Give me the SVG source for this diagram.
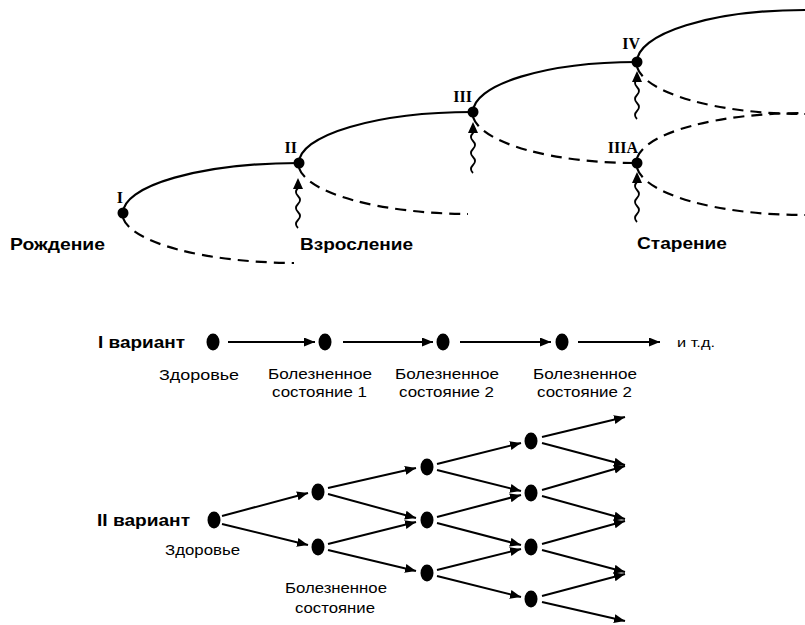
<svg xmlns="http://www.w3.org/2000/svg" width="805" height="625" viewBox="0 0 805 625">
<defs>
<marker id="ah" markerUnits="userSpaceOnUse" markerWidth="12" markerHeight="10" refX="11" refY="4.5" orient="auto"><path d="M0,0 L11,4.5 L0,9 z" fill="#000"/></marker>
</defs>
<style>
.solid{fill:none;stroke:#000;stroke-width:2.2}
.dash{fill:none;stroke:#000;stroke-width:2.2;stroke-dasharray:11 7}
.wave{fill:none;stroke:#000;stroke-width:1.8}
.arr{stroke:#000;stroke-width:2;marker-end:url(#ah)}
.rom{font-family:"Liberation Serif",serif;font-weight:bold;font-size:16px;fill:#000}
.stage{font-family:"Liberation Sans",Arial,sans-serif;font-weight:bold;font-size:17px;fill:#000}
.var{font-family:"Liberation Sans",Arial,sans-serif;font-weight:bold;font-size:16px;fill:#000}
.lbl{font-family:"Liberation Sans",Arial,sans-serif;font-size:14.5px;fill:#000}
.sm{font-family:"Liberation Sans",Arial,sans-serif;font-size:13px;fill:#000}
.dot{fill:#000}
</style>
<g id="connectors">
<path class="solid" d="M123,213 A176,50 0 0 1 299,163"/>
<path class="dash" d="M123,218 A176,50 0 0 0 294,263"/>
<path class="solid" d="M299,163 A174,51 0 0 1 473,112"/>
<path class="dash" d="M299,168 A174,51 0 0 0 468,214"/>
<path class="solid" d="M473,112 A164,50 0 0 1 637,62"/>
<path class="dash" d="M473,117 A164,51 0 0 0 637,163"/>
<path class="solid" d="M637,62 A168,52 0 0 1 805,10"/>
<path class="dash" d="M637,67 A168,52 0 0 0 805,114"/>
<path class="dash" d="M637,158 A168,50 0 0 1 805,113"/>
<path class="dash" d="M637,168 A168,52 0 0 0 805,215"/>
<path class="wave" d="M298,228 q-4,-4 0,-8 q4,-4 0,-8 q-4,-4 0,-8 q4,-4 0,-8 q-4,-4 0,-8 l0,-2"/>
<path class="wave" d="M473,173 q-4,-4 0,-8 q4,-4 0,-8 q-4,-4 0,-8 q4,-4 0,-8 q-4,-4 0,-8 l0,-3"/>
<path class="wave" d="M637,119 q-4,-4 0,-8 q4,-4 0,-8 q-4,-4 0,-8 q4,-4 0,-8 q-4,-4 0,-8 l0,-1"/>
<path class="wave" d="M637,222 q-4,-4 0,-8 q4,-4 0,-8 q-4,-4 0,-8 q4,-4 0,-8 q-4,-4 0,-8 l0,-1"/>
<path fill="#000" d="M298,178 L293,189 L303,189 z"/>
<path fill="#000" d="M473,122 L468,133 L478,133 z"/>
<path fill="#000" d="M637,71 L632,82 L642,82 z"/>
<path fill="#000" d="M637,172 L632,183 L642,183 z"/>
<line class="arr" x1="228" y1="342" x2="315" y2="342"/>
<line class="arr" x1="343" y1="342" x2="433" y2="342"/>
<line class="arr" x1="460" y1="342" x2="551" y2="342"/>
<line class="arr" x1="578" y1="342" x2="660" y2="342"/>
<line class="arr" x1="222" y1="516" x2="308" y2="493"/>
<line class="arr" x1="222" y1="524" x2="308" y2="545"/>
<line class="arr" x1="328" y1="488" x2="416" y2="468"/>
<line class="arr" x1="328" y1="494" x2="416" y2="518"/>
<line class="arr" x1="328" y1="544" x2="416" y2="522"/>
<line class="arr" x1="328" y1="550" x2="416" y2="571"/>
<line class="arr" x1="437" y1="464" x2="521" y2="443"/>
<line class="arr" x1="437" y1="470" x2="521" y2="491"/>
<line class="arr" x1="437" y1="517" x2="521" y2="495"/>
<line class="arr" x1="437" y1="523" x2="521" y2="545"/>
<line class="arr" x1="437" y1="570" x2="521" y2="549"/>
<line class="arr" x1="437" y1="576" x2="521" y2="597"/>
<line class="arr" x1="542" y1="437" x2="625" y2="417"/>
<line class="arr" x1="542" y1="443" x2="625" y2="465"/>
<line class="arr" x1="542" y1="490" x2="625" y2="466"/>
<line class="arr" x1="542" y1="496" x2="625" y2="519"/>
<line class="arr" x1="542" y1="544" x2="625" y2="521"/>
<line class="arr" x1="542" y1="550" x2="625" y2="572"/>
<line class="arr" x1="542" y1="596" x2="625" y2="574"/>
<line class="arr" x1="542" y1="602" x2="625" y2="621"/>
</g>
<g id="node-I"><circle class="dot" cx="123" cy="213" r="5.5"/><text class="rom" x="123" y="203" text-anchor="end">I</text></g>
<g id="node-II"><circle class="dot" cx="299" cy="163" r="5.5"/><text class="rom" x="297" y="153" text-anchor="end">II</text></g>
<g id="node-III"><circle class="dot" cx="473" cy="112" r="5.5"/><text class="rom" x="472" y="102" text-anchor="end">III</text></g>
<g id="node-IV"><circle class="dot" cx="637" cy="62" r="5.5"/><text class="rom" x="640" y="49" text-anchor="end">IV</text></g>
<g id="node-IIIA"><circle class="dot" cx="637" cy="163" r="5.5"/><text class="rom" x="638" y="153" text-anchor="end">IIIA</text></g>
<g id="stage-labels">
<text class="stage" x="10" y="250" textLength="95" lengthAdjust="spacingAndGlyphs">Рождение</text>
<text class="stage" x="300" y="250" textLength="113" lengthAdjust="spacingAndGlyphs">Взросление</text>
<text class="stage" x="637" y="249" textLength="90" lengthAdjust="spacingAndGlyphs">Старение</text>
</g>
<g id="variant1">
<text class="var" x="98" y="348" textLength="87" lengthAdjust="spacingAndGlyphs">I вариант</text>
<ellipse class="dot" cx="213" cy="342" rx="6.5" ry="8.5"/>
<ellipse class="dot" cx="325" cy="342" rx="6.5" ry="8.5"/>
<ellipse class="dot" cx="443" cy="342" rx="6.5" ry="8.5"/>
<ellipse class="dot" cx="562" cy="342" rx="6.5" ry="8.5"/>
<text class="sm" x="677" y="347" textLength="38" lengthAdjust="spacingAndGlyphs">и т.д.</text>
<text class="lbl" x="159" y="380" textLength="80" lengthAdjust="spacingAndGlyphs">Здоровье</text>
<text class="lbl" x="268" y="379" textLength="104" lengthAdjust="spacingAndGlyphs">Болезненное</text>
<text class="lbl" x="272" y="397" textLength="95" lengthAdjust="spacingAndGlyphs">состояние 1</text>
<text class="lbl" x="395" y="379" textLength="104" lengthAdjust="spacingAndGlyphs">Болезненное</text>
<text class="lbl" x="399" y="397" textLength="95" lengthAdjust="spacingAndGlyphs">состояние 2</text>
<text class="lbl" x="533" y="379" textLength="104" lengthAdjust="spacingAndGlyphs">Болезненное</text>
<text class="lbl" x="537" y="397" textLength="95" lengthAdjust="spacingAndGlyphs">состояние 2</text>
</g>
<g id="variant2">
<text class="var" x="97" y="526" textLength="93" lengthAdjust="spacingAndGlyphs">II вариант</text>
<ellipse class="dot" cx="214" cy="520" rx="6.5" ry="8.5"/>
<ellipse class="dot" cx="318" cy="492" rx="6.5" ry="8.5"/>
<ellipse class="dot" cx="318" cy="547" rx="6.5" ry="8.5"/>
<ellipse class="dot" cx="427" cy="467" rx="6.5" ry="8.5"/>
<ellipse class="dot" cx="427" cy="520" rx="6.5" ry="8.5"/>
<ellipse class="dot" cx="427" cy="573" rx="6.5" ry="8.5"/>
<ellipse class="dot" cx="531" cy="441" rx="6.5" ry="8.5"/>
<ellipse class="dot" cx="531" cy="493" rx="6.5" ry="8.5"/>
<ellipse class="dot" cx="531" cy="547" rx="6.5" ry="8.5"/>
<ellipse class="dot" cx="531" cy="599" rx="6.5" ry="8.5"/>
<text class="lbl" x="165" y="555" textLength="75" lengthAdjust="spacingAndGlyphs">Здоровье</text>
<text class="lbl" x="285" y="593" textLength="102" lengthAdjust="spacingAndGlyphs">Болезненное</text>
<text class="lbl" x="295" y="613" textLength="80" lengthAdjust="spacingAndGlyphs">состояние</text>
</g>
</svg>
